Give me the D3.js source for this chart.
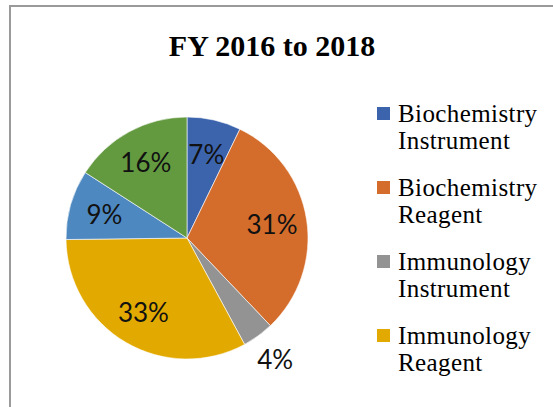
<!DOCTYPE html>
<html>
<head>
<meta charset="utf-8">
<script src="https://cdn.jsdelivr.net/npm/d3@7"></script>
<style>
  html, body { margin: 0; padding: 0; background: #fff; overflow: hidden; }
</style>
</head>
<body>
<div id="chart"></div>
<script>
// shares (labels shown rounded)
const categories = ["Biochemistry Instrument", "Biochemistry Reagent", "Immunology Instrument",
                    "Immunology Reagent", "Other Instrument", "Other Reagent"];
const shares = [7.2, 30.7, 4.2, 32.7, 9.3, 15.9];
const colors = ["#3C64AD", "#D46D2C", "#939393", "#E2AA00", "#4E88C0", "#639A40"];
const title = "FY 2016 to 2018";

const width = 553, height = 407;
const cx = 187, cy = 238, radius = 121;

const svg = d3.select("#chart")
    .append("svg")
    .attr("width", width)
    .attr("height", height);

svg.append("rect")
    .attr("width", width)
    .attr("height", height)
    .attr("fill", "#fff");

// chart frame (only top and left edges fall inside the window)
svg.append("path")
    .attr("d", `M10,${height + 5} V6 H${width + 5}`)
    .attr("fill", "none")
    .attr("stroke", "#9a9a9a")
    .attr("stroke-width", 2);

svg.append("text")
    .attr("x", 272)
    .attr("y", 56)
    .attr("text-anchor", "middle")
    .style("font-family", "'Liberation Serif', 'Times New Roman', serif")
    .style("font-weight", "bold")
    .style("font-size", "30px")
    .text(title);

const data = categories.map((c, i) => ({ name: c, value: shares[i], color: colors[i] }));

const pie = d3.pie()
    .value(d => d.value)
    .sort(null);

const arc = d3.arc().innerRadius(0).outerRadius(radius);
const labelArc = d3.arc().innerRadius(86).outerRadius(86);
const outerArc = d3.arc().innerRadius(150).outerRadius(150);

const g = svg.append("g")
    .attr("transform", `translate(${cx},${cy})`);

const arcs = pie(data);

g.selectAll("path.slice")
    .data(arcs)
    .enter()
    .append("path")
    .attr("class", "slice")
    .attr("d", arc)
    .attr("fill", d => d.data.color)
    .attr("stroke", "#fff")
    .attr("stroke-width", 0.6);

g.selectAll("text.label")
    .data(arcs)
    .enter()
    .append("text")
    .attr("class", "label")
    .attr("transform", d => `translate(${(d.data.value < 5 ? outerArc : labelArc).centroid(d)})`)
    .attr("text-anchor", "middle")
    .attr("dy", "0.36em")
    .style("font-family", "Lato, 'Open Sans', sans-serif")
    .style("font-size", "26px")
    .style("fill", "#111")
    .text(d => Math.round(d.data.value) + "%");

// legend: only the first four entries fit inside the visible frame
const legend = svg.append("g")
    .style("font-family", "'Liberation Serif', 'Times New Roman', serif")
    .style("font-size", "25px");

const item = legend.selectAll("g")
    .data(data.slice(0, 4))
    .enter()
    .append("g")
    .attr("transform", (d, i) => `translate(377,${107 + i * 74})`);

item.append("rect")
    .attr("width", 13)
    .attr("height", 13)
    .attr("fill", d => d.color);

item.append("text")
    .attr("x", 21)
    .attr("y", 14.5)
    .style("letter-spacing", "0.4px")
    .selectAll("tspan")
    .data(d => d.name.split(" "))
    .enter()
    .append("tspan")
    .attr("x", 21)
    .attr("dy", (d, i) => i === 0 ? 0 : 27)
    .text(d => d);
</script>
</body>
</html>
